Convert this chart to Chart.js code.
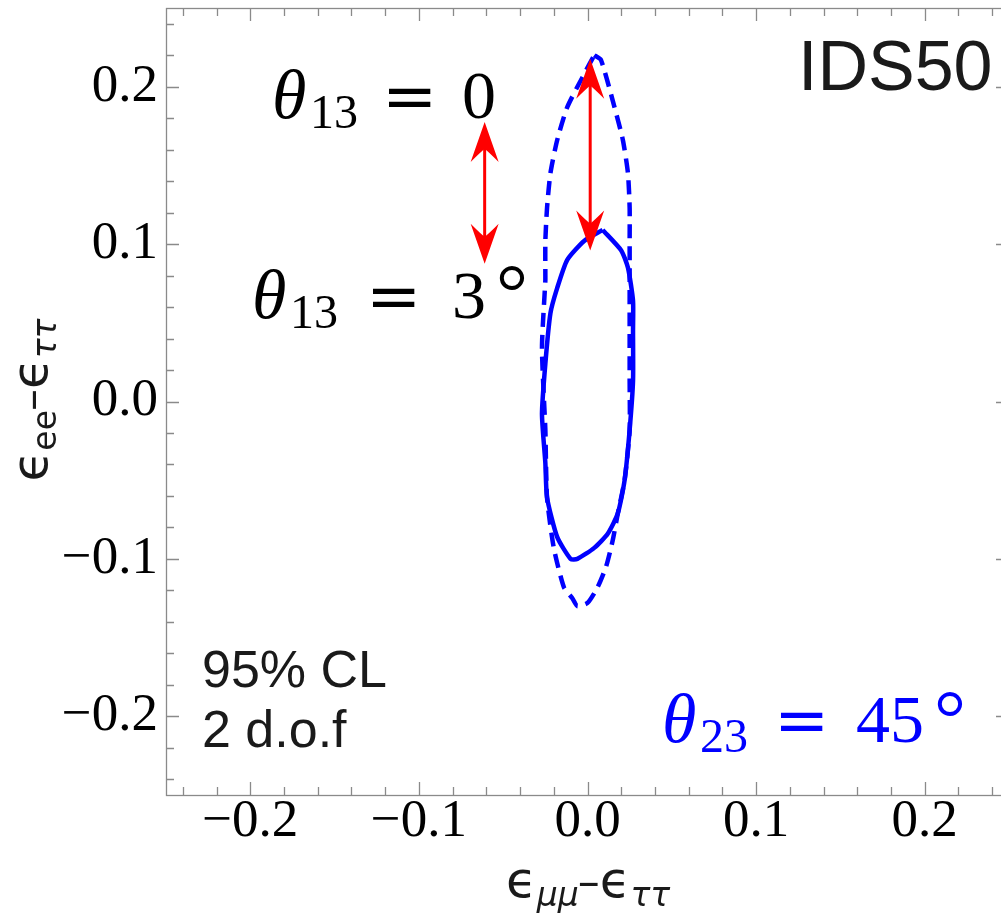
<!DOCTYPE html>
<html><head><meta charset="utf-8">
<script src="https://cdn.jsdelivr.net/npm/chart.js@4/dist/chart.umd.min.js"></script>
<style>html,body{margin:0;padding:0;overflow:hidden;background:#fff;width:1001px;height:913px}canvas{display:block}</style>
</head><body><canvas id="c" width="1010" height="913"></canvas>
<script>
// ---- data ----
const xTickValues = [-0.2, -0.1, 0, 0.1, 0.2];
const xTickLabels = ['\u22120.2', '\u22120.1', '0.0', '0.1', '0.2'];
const yTickValues = [-0.2, -0.1, 0, 0.1, 0.2];
const yTickLabels = ['\u22120.2', '\u22120.1', '0.0', '0.1', '0.2'];

// theta13 = 0 (dashed contour)
const dashedX = [0.004, 0.008, 0.016, 0.021, 0.024, 0.025, 0.025, 0.025, 0.025, 0.025, 0.025, 0.022, 0.018, 0.015, 0.011, 0.006, 0.000, -0.006, -0.009, -0.014, -0.020, -0.024, -0.025, -0.027, -0.025, -0.025, -0.025, -0.024, -0.022, -0.018, -0.012, -0.002, 0.004];
const dashedY = [0.220, 0.217, 0.187, 0.166, 0.145, 0.123, 0.102, 0.081, 0.045, 0.013, -0.018, -0.050, -0.071, -0.088, -0.105, -0.118, -0.128, -0.130, -0.125, -0.118, -0.093, -0.061, -0.018, 0.034, 0.077, 0.081, 0.102, 0.123, 0.145, 0.166, 0.187, 0.208, 0.220];
// theta13 = 3 deg (solid contour)
const solidX = [0.009, 0.020, 0.024, 0.027, 0.027, 0.027, 0.025, 0.022, 0.018, 0.012, 0.004, -0.006, -0.010, -0.018, -0.024, -0.025, -0.027, -0.025, -0.022, -0.018, -0.012, -0.002, 0.009];
const solidY = [0.109, 0.096, 0.085, 0.064, 0.045, 0.013, -0.018, -0.050, -0.071, -0.084, -0.093, -0.100, -0.100, -0.086, -0.061, -0.039, -0.008, 0.024, 0.056, 0.072, 0.090, 0.102, 0.109];

// red double arrows
const arrowX = [-0.061, 0.0016];
const arrowYFrom = [0.1775, 0.2177];
const arrowYTo = [0.0875, 0.0959];

// ---- helpers ----
function labelFor(values, labels, v) {
  let best = -1, bd = 1e9;
  values.forEach((t, i) => { const d = Math.abs(t - v); if (d < bd) { bd = d; best = i; } });
  return bd < 1e-6 ? labels[best] : '';
}
function drawPieces(ctx, x0, base, pieces, color) {
  ctx.fillStyle = color;
  ctx.textBaseline = 'alphabetic';
  ctx.textAlign = 'left';
  for (const p of pieces) {
    ctx.font = p.f;
    ctx.fillText(p.t, x0 + p.dx, base + (p.dy || 0));
  }
}
function flowPieces(ctx, pieces) {
  let x = 0; const out = [];
  for (const p of pieces) {
    ctx.font = p.f;
    out.push({ t: p.t, f: p.f, dx: x + (p.g || 0), dy: p.dy });
    x += (p.g || 0) + ctx.measureText(p.t).width;
  }
  return { items: out, width: x };
}
function arrowHead(ctx, tx, ty, dir) {
  const L = 40, W = 14, N = 27;
  ctx.beginPath();
  ctx.moveTo(tx, ty);
  ctx.lineTo(tx + W, ty + dir * L);
  ctx.quadraticCurveTo(tx + 3, ty + dir * (N + 2), tx, ty + dir * N);
  ctx.quadraticCurveTo(tx - 3, ty + dir * (N + 2), tx - W, ty + dir * L);
  ctx.closePath();
  ctx.fill();
}

const framePlugin = {
  id: 'frame',
  beforeDatasetsDraw(chart) {
    const { ctx, chartArea: a, scales: { x, y } } = chart;
    ctx.save();
    ctx.strokeStyle = '#8a8a8a';
    ctx.lineWidth = 1.3;
    ctx.strokeRect(a.left + 0.5, a.top + 0.5, a.right - a.left, a.bottom - a.top);
    ctx.beginPath();
    for (let k = -12; k <= 12; k++) {
      const v = k * 0.02;
      const L = (k % 5 === 0) ? 13 : 8;
      const px = Math.round(x.getPixelForValue(v)) + 0.5;
      ctx.moveTo(px, a.bottom); ctx.lineTo(px, a.bottom - L);
      ctx.moveTo(px, a.top); ctx.lineTo(px, a.top + L);
      const py = Math.round(y.getPixelForValue(v)) + 0.5;
      ctx.moveTo(a.left, py); ctx.lineTo(a.left + L, py);
      ctx.moveTo(a.right, py); ctx.lineTo(a.right - L, py);
    }
    ctx.stroke();
    ctx.restore();
  },
  afterDatasetsDraw(chart) {
    const { ctx, scales: { x, y } } = chart;
    ctx.save();
    // arrows
    ctx.fillStyle = '#ff0000';
    ctx.strokeStyle = '#ff0000';
    ctx.lineWidth = 3;
    arrowX.forEach((ax, i) => {
      const px = x.getPixelForValue(ax);
      const p1 = y.getPixelForValue(arrowYFrom[i]);
      const p2 = y.getPixelForValue(arrowYTo[i]);
      ctx.beginPath(); ctx.moveTo(px, p1 + 25); ctx.lineTo(px, p2 - 25); ctx.stroke();
      arrowHead(ctx, px, p1, 1);
      arrowHead(ctx, px, p2, -1);
    });

    const serif = '"Liberation Serif", "Times New Roman", serif';
    const big = '68px ' + serif, it = 'italic 70px ' + serif, sub = '48px ' + serif;
    const eqf = '66px "DejaVu Serif", serif';
    const deg = '80px ' + serif;
    // theta13 = 0
    drawPieces(ctx, 272, 118, [
      { t: '\u03B8', f: it, dx: 0 },
      { t: '13', f: sub, dx: 38, dy: 10 },
      { t: '=', f: eqf, dx: 110 },
      { t: '0', f: big, dx: 190 }
    ], '#000');
    // theta13 = 3 deg
    drawPieces(ctx, 252, 318, [
      { t: '\u03B8', f: it, dx: 0 },
      { t: '13', f: sub, dx: 38, dy: 10 },
      { t: '=', f: eqf, dx: 114 },
      { t: '3', f: big, dx: 200 },
      { t: '\u00B0', f: deg, dx: 244, dy: 1 }
    ], '#000');
    // theta23 = 45 deg (blue)
    drawPieces(ctx, 662, 742, [
      { t: '\u03B8', f: it, dx: 0 },
      { t: '23', f: sub, dx: 38, dy: 10 },
      { t: '=', f: eqf, dx: 112 },
      { t: '45', f: big, dx: 194 },
      { t: '\u00B0', f: deg, dx: 272, dy: 3 }
    ], '#0000ff');

    const sans = '"Liberation Sans", Arial, sans-serif';
    ctx.fillStyle = '#1a1a1a';
    ctx.font = '70px ' + sans;
    ctx.textAlign = 'left'; ctx.textBaseline = 'alphabetic';
    ctx.fillText('IDS50', 798, 90);
    ctx.font = '52px ' + sans;
    ctx.fillText('95% CL', 202, 687);
    ctx.fillText('2 d.o.f', 202, 747);

    // axis titles
    const tf = '50px "DejaVu Sans", sans-serif';
    const sf = 'italic 33px "DejaVu Sans", sans-serif';
    const df = '44px "DejaVu Sans", sans-serif';
    const xt = flowPieces(ctx, [
      { t: '\u03F5', f: tf },
      { t: '\u03BC\u03BC', f: sf, dy: 9 },
      { t: '\u2013', f: df, g: -1 },
      { t: '\u03F5', f: tf },
      { t: '\u03C4\u03C4', f: sf, dy: 9 }
    ]);
    drawPieces(ctx, 588 - xt.width / 2, 897, xt.items, '#1a1a1a');
    const yt = flowPieces(ctx, [
      { t: '\u03F5', f: tf },
      { t: 'ee', f: '33px "DejaVu Sans", sans-serif', dy: 9 },
      { t: '\u2013', f: df, g: -1 },
      { t: '\u03F5', f: tf },
      { t: '\u03C4\u03C4', f: sf, dy: 9 }
    ]);
    ctx.translate(47, 400);
    ctx.rotate(-Math.PI / 2);
    drawPieces(ctx, -yt.width / 2, 0, yt.items, '#1a1a1a');
    ctx.restore();
  }
};

const tickFont = { family: 'Liberation Serif', size: 53 };
new Chart(document.getElementById('c'), {
  type: 'scatter',
  data: {
    datasets: [
      { label: '\u03B813 = 0', data: dashedX.map((v, i) => ({ x: v, y: dashedY[i] })), showLine: true,
        borderColor: '#0000ff', borderWidth: 4.5, borderDash: [14, 8], pointRadius: 0, fill: false, tension: 0.2 },
      { label: '\u03B813 = 3\u00B0', data: solidX.map((v, i) => ({ x: v, y: solidY[i] })), showLine: true,
        borderColor: '#0000ff', borderWidth: 4.5, pointRadius: 0, fill: false, tension: 0.2 }
    ]
  },
  options: {
    responsive: false,
    animation: false,
    layout: { padding: { top: 8, right: 1, left: 0, bottom: 0 } },
    plugins: { legend: { display: false }, tooltip: { enabled: false } },
    scales: {
      x: {
        type: 'linear', min: -0.25, max: 0.25,
        afterBuildTicks: s => { s.ticks = xTickValues.map(v => ({ value: v })); },
        afterFit: s => { s.height = 118; s.paddingLeft = 0; s.paddingRight = 0; },
        grid: { display: false, drawTicks: false }, border: { display: false },
        ticks: { callback: v => labelFor(xTickValues, xTickLabels, v), font: tickFont, color: '#000', padding: -5, maxRotation: 0, autoSkip: false }
      },
      y: {
        type: 'linear', min: -0.25, max: 0.25,
        afterBuildTicks: s => { s.ticks = yTickValues.map(v => ({ value: v })); },
        afterFit: s => { s.width = 166; s.paddingTop = 0; s.paddingBottom = 0; },
        grid: { display: false, drawTicks: false }, border: { display: false },
        ticks: { callback: v => labelFor(yTickValues, yTickLabels, v), font: tickFont, color: '#000', padding: 8, autoSkip: false }
      }
    }
  },
  plugins: [framePlugin]
});
</script>
</body></html>
